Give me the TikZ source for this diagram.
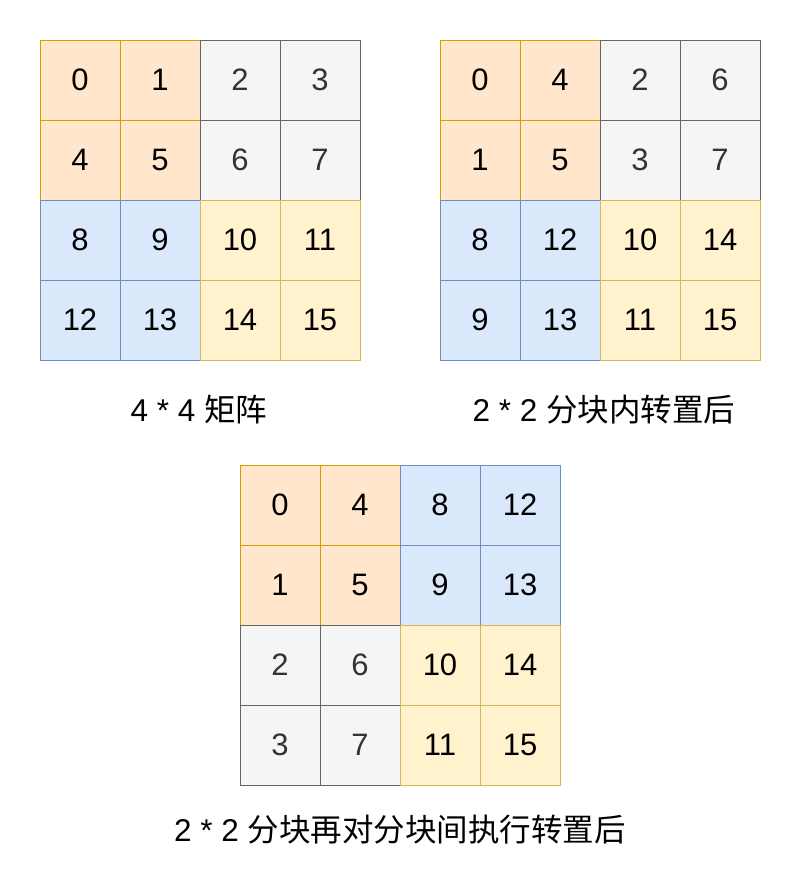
\documentclass[tikz,border=0pt]{standalone}
\usepackage{fontspec}
\setmainfont{Liberation Sans}
\newfontfamily\cjk{Noto Sans CJK SC}
\usepackage{tikz,xcolor}

\definecolor{orgfill}{HTML}{FFE6CC}\definecolor{orgline}{HTML}{D79B00}\definecolor{orgtext}{HTML}{000000}
\definecolor{gryfill}{HTML}{F5F5F5}\definecolor{gryline}{HTML}{666666}\definecolor{grytext}{HTML}{333333}
\definecolor{blufill}{HTML}{DAE8FC}\definecolor{bluline}{HTML}{6C8EBF}\definecolor{blutext}{HTML}{000000}
\definecolor{ylwfill}{HTML}{FFF2CC}\definecolor{ylwline}{HTML}{D6B656}\definecolor{ylwtext}{HTML}{000000}

\tikzset{
  cell/.style={draw=#1line, fill=#1fill, text=#1text, line width=1pt, minimum size=80pt,
    inner sep=0pt, font=\fontsize{31}{36}\selectfont},
  caption/.style={anchor=base, inner sep=0pt, font=\fontsize{31.5}{36}\selectfont}
}

\begin{document}
\begin{tikzpicture}[x=1pt,y=-1pt]
\useasboundingbox (0,0) rectangle (801,881);

% 4 * 4 matrix
\foreach \v/\c [count=\i from 0] in {0/org,1/org,2/gry,3/gry,4/org,5/org,6/gry,7/gry,
  8/blu,9/blu,10/ylw,11/ylw,12/blu,13/blu,14/ylw,15/ylw}
  \node[cell=\c] (a\i) at ({80+80*mod(\i,4)},{80+80*int(\i/4)}) {\v};

% transposed inside blocks
\foreach \v/\c [count=\i from 0] in {0/org,4/org,2/gry,6/gry,1/org,5/org,3/gry,7/gry,
  8/blu,12/blu,10/ylw,14/ylw,9/blu,13/blu,11/ylw,15/ylw}
  \node[cell=\c] (b\i) at ({480+80*mod(\i,4)},{80+80*int(\i/4)}) {\v};

% blocks transposed too
\foreach \v/\c [count=\i from 0] in {0/org,4/org,8/blu,12/blu,1/org,5/org,9/blu,13/blu,
  2/gry,6/gry,10/ylw,14/ylw,3/gry,7/gry,11/ylw,15/ylw}
  \node[cell=\c] (c\i) at ({280+80*mod(\i,4)},{505+80*int(\i/4)}) {\v};

\node[caption] (capA) at (199,421.7) {4 * 4 {\cjk 矩阵}};
\node[caption] (capB) at (604,421.7) {2 * 2 {\cjk 分块内转置后}};
\node[caption] (capC) at (400,841.7) {2 * 2 {\cjk 分块再对分块间执行转置后}};

\end{tikzpicture}
\end{document}
